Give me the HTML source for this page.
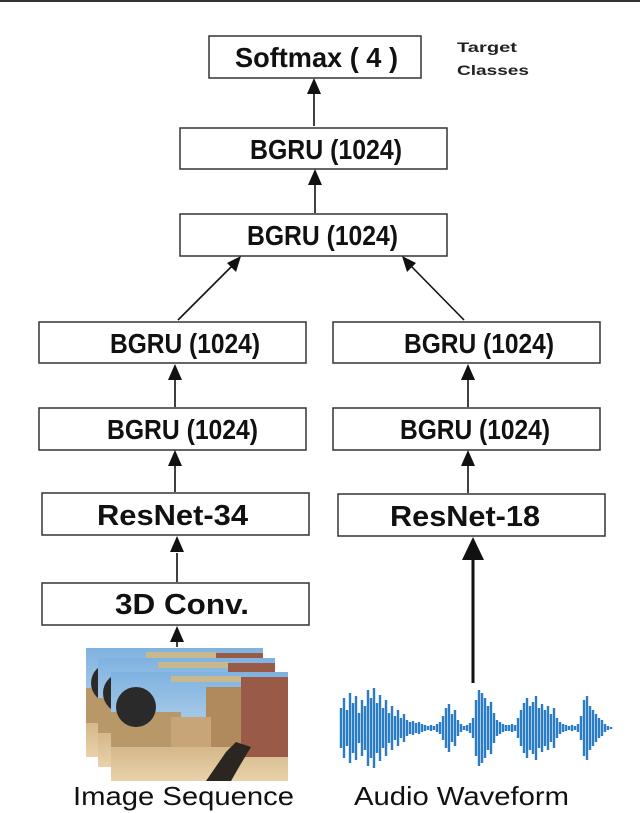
<!DOCTYPE html>
<html><head><meta charset="utf-8"><style>html,body{margin:0;padding:0;background:#fff}svg{display:block}</style></head><body>
<svg width="640" height="813" viewBox="0 0 640 813" xmlns="http://www.w3.org/2000/svg">
<defs>
<linearGradient id="sky" x1="0" y1="0" x2="0" y2="1"><stop offset="0" stop-color="#7fb2e0"/><stop offset="1" stop-color="#d8e6f0"/></linearGradient>
<linearGradient id="sand" x1="0" y1="0" x2="0" y2="1"><stop offset="0" stop-color="#c9a878"/><stop offset="1" stop-color="#e8d2aa"/></linearGradient>
<g id="frame">
<rect x="0" y="0" width="177" height="109" fill="url(#sky)"/>
<rect x="0" y="55" width="177" height="54" fill="url(#sand)"/>
<rect x="0" y="40" width="70" height="35" fill="#b89868"/>
<rect x="95" y="15" width="40" height="60" fill="#b08a5c"/>
<rect x="130" y="5" width="47" height="80" fill="#9a5a48"/>
<rect x="60" y="45" width="40" height="30" fill="#c7a579"/>
<circle cx="25" cy="35" r="20" fill="#2a2a2a"/>
<rect x="60" y="4" width="70" height="6" fill="#c8b890"/>
<path d="M95 109 L115 80 L125 70 L140 75 L128 95 L120 109Z" fill="#2b2622"/>
</g>
</defs>
<rect x="0" y="0" width="640" height="2" fill="#333"/>
<g fill="#fff" stroke="#333" stroke-width="1.5">
<rect x="209" y="36" width="212" height="42"/>
<rect x="180" y="128" width="267" height="41"/>
<rect x="180" y="214" width="267" height="42"/>
<rect x="39" y="322" width="267" height="41"/>
<rect x="333" y="322" width="267" height="41"/>
<rect x="39" y="408" width="267" height="42"/>
<rect x="333" y="408" width="267" height="42"/>
<rect x="42" y="493" width="267" height="42"/>
<rect x="338" y="494" width="267" height="42"/>
<rect x="42" y="583" width="267" height="42"/>
</g>
<g font-family="Liberation Sans, Arial, sans-serif" font-weight="bold" font-size="28" fill="#111">
<text x="235" y="67" textLength="163" lengthAdjust="spacingAndGlyphs">Softmax (  4  )</text>
<text x="250" y="159" textLength="152" lengthAdjust="spacingAndGlyphs">BGRU (1024)</text>
<text x="247" y="245" textLength="151" lengthAdjust="spacingAndGlyphs">BGRU (1024)</text>
<text x="110" y="353" textLength="150" lengthAdjust="spacingAndGlyphs">BGRU (1024)</text>
<text x="404" y="353" textLength="150" lengthAdjust="spacingAndGlyphs">BGRU (1024)</text>
<text x="107" y="439" textLength="151" lengthAdjust="spacingAndGlyphs">BGRU (1024)</text>
<text x="400" y="439" textLength="150" lengthAdjust="spacingAndGlyphs">BGRU (1024)</text>
<text x="97" y="525" font-size="29" textLength="151" lengthAdjust="spacingAndGlyphs">ResNet-34</text>
<text x="390" y="526" font-size="29" textLength="150" lengthAdjust="spacingAndGlyphs">ResNet-18</text>
<text x="115" y="614" font-size="29" textLength="134" lengthAdjust="spacingAndGlyphs">3D Conv.</text>
</g>
<g font-family="Liberation Sans, Arial, sans-serif" font-weight="bold" font-size="14" fill="#222">
<text x="457" y="52" textLength="60" lengthAdjust="spacingAndGlyphs">Target</text>
<text x="457" y="75" textLength="72" lengthAdjust="spacingAndGlyphs">Classes</text>
</g>
<g stroke="#111" stroke-width="1.6" fill="none">
<line x1="314" y1="126" x2="314" y2="92"/>
<line x1="315" y1="213" x2="315" y2="183"/>
<line x1="178" y1="320" x2="232" y2="266"/>
<line x1="464" y1="320" x2="411" y2="266"/>
<line x1="175" y1="407" x2="175" y2="377"/>
<line x1="175" y1="492" x2="175" y2="463"/>
<line x1="177" y1="582" x2="177" y2="553"/>
<line x1="468" y1="407" x2="468" y2="377"/>
<line x1="468" y1="493" x2="468" y2="463"/>
<line x1="177" y1="647" x2="177" y2="640"/>
<line x1="473" y1="683" x2="473" y2="555" stroke-width="3"/>
</g>
<g fill="#111">
<polygon points="314,78 307,94 321,94"/>
<polygon points="315,169 308,185 322,185"/>
<polygon points="241,256 227,263 236,272"/>
<polygon points="402,256 407,272 416,263"/>
<polygon points="175,364 168,380 182,380"/>
<polygon points="175,450 168,466 182,466"/>
<polygon points="177,536 170,552 184,552"/>
<polygon points="468,364 461,380 475,380"/>
<polygon points="468,450 461,466 475,466"/>
<polygon points="177,626 170,642 184,642"/>
<polygon points="473,537 462,560 484,560"/>
</g>
<rect x="86" y="688" width="10" height="58" fill="#111"/>
<rect x="98" y="700" width="12" height="60" fill="#111"/>
<use href="#frame" transform="translate(86,648)"/>
<use href="#frame" transform="translate(98,658)"/>
<use href="#frame" transform="translate(111,672)"/>
<path stroke="#2a7cc7" stroke-width="2.4" fill="none" d="
M341 708V748M344 698V758M347 710V746M350 693V763M353 703V753M356 696V760M359 713V743M362 700V756M365 706V750M368 690V766M371 698V758M374 688V768M377 703V753M380 695V761M383 708V748M386 700V756M389 713V743M392 706V750M395 716V740M398 710V746M401 718V738M404 714V742M407 720V736M410 722V734M413 721V735M416 723V733M419 722V734M422 724V732M425 725V731M428 726V730M431 725V731M434 726V730M437 724V732M440 722V734M443 716V740M446 708V748M449 704V752M452 714V742M455 710V746M458 720V736M461 724V732M464 726V730M467 725V731M470 723V733M473 718V738M476 700V756M479 690V766M482 693V763M485 698V758M488 706V750M491 702V754M494 713V743M497 720V736M500 722V734M503 724V732M506 725V731M509 725V731M512 724V732M515 725V731M518 718V738M521 710V746M524 703V753M527 698V758M530 706V750M533 702V754M536 696V760M539 708V748M542 704V752M545 710V746M548 706V750M551 714V742M554 708V748M557 718V738M560 722V734M563 724V732M566 725V731M569 726V730M572 725V731M575 726V730M578 724V732M581 716V740M584 700V756M587 696V760M590 706V750M593 710V746M596 714V742M599 718V738M602 720V736M605 724V732M608 726V730M611 727V729"/>
<g font-family="Liberation Sans, Arial, sans-serif" font-size="26" fill="#111">
<text x="73" y="805" textLength="221" lengthAdjust="spacingAndGlyphs">Image Sequence</text>
<text x="354" y="805" textLength="215" lengthAdjust="spacingAndGlyphs">Audio Waveform</text>
</g>
</svg>
</body></html>
